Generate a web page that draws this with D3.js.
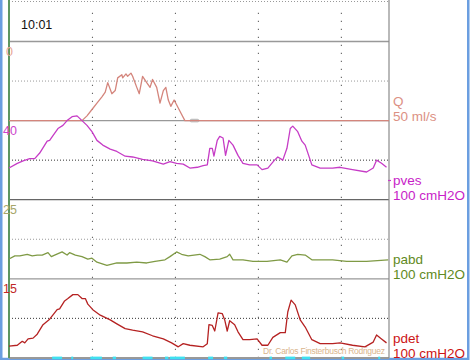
<!DOCTYPE html>
<html>
<head>
<meta charset="utf-8">
<script src="https://cdn.jsdelivr.net/npm/d3@7"></script>
<style>
	html, body { margin: 0; padding: 0; background: #fff; }
	svg { display: block; font-family: 'Liberation Sans', Arial, sans-serif; }
</style>
</head>
<body>
<svg id="uro-graph" width="470" height="360"></svg>
<script>
// channels, top to bottom
const channelNames = ['Q', 'pves', 'pabd', 'pdet'];
const channelUnits = ['50 ml/s', '100 cmH2O', '100 cmH2O', '100 cmH2O'];
const channelStart = ['0', '40', '25', '15'];
const channelRange = [50, 100, 100, 100];
const timeTicks = [10, 20, 30, 40]; // seconds
const clockLabel = '10:01';
const signature = 'Dr. Carlos Finsterbusch Rodriguez';

// [time s, value]
const qFlow = [[0, 0], [8.8, 0], [9.4, 3], [10.0, 7], [10.6, 11], [11.2, 15], [11.6, 18], [11.9, 24], [12.4, 17], [12.8, 19],
	[13.1, 27], [13.6, 29], [13.7, 27], [14.1, 29.5], [14.3, 28], [14.7, 30], [14.9, 28], [15.4, 21], [15.7, 17], [16.1, 28],
	[16.6, 24], [17.0, 21], [17.3, 26], [17.8, 21], [18.2, 11], [18.6, 19], [18.9, 21], [19.2, 13], [19.5, 9], [19.9, 13],
	[20.2, 10], [20.7, 5], [21.2, 0], [45.8, 0]];

const pves = [[0, 40], [1.0, 46], [1.7, 49], [2.5, 52], [3.1, 52], [3.7, 59], [4.6, 74], [4.9, 75], [5.3, 81], [5.9, 90],
	[6.5, 94], [7.0, 100], [7.6, 105], [8.2, 106], [8.8, 100], [9.4, 94], [10.0, 86], [10.6, 75], [11.3, 69], [12.2, 64],
	[13.0, 61], [14.0, 55], [14.9, 54], [16.1, 51], [17.3, 49], [18.6, 45], [19.4, 48], [20.2, 46], [21.0, 45], [21.8, 40],
	[22.7, 41], [23.4, 43], [23.9, 44], [24.2, 65], [24.5, 65], [24.7, 55], [25.1, 75], [25.4, 80], [25.8, 78], [26.1, 56],
	[26.5, 75], [27.0, 69], [27.6, 56], [28.2, 46], [29.0, 44], [29.9, 44], [30.5, 38], [31.2, 40], [32.0, 50], [32.4, 54],
	[33.0, 50], [33.5, 65], [33.9, 90], [34.2, 93], [34.8, 86], [35.3, 74], [35.7, 69], [36.5, 44], [37.5, 40], [39.0, 40],
	[39.9, 41], [41.4, 38], [43.1, 35], [43.9, 40], [44.3, 50], [44.9, 46], [45.5, 41]];

const pabd = [[0, 25], [0.7, 29], [1.3, 29], [2.2, 31], [2.8, 29], [3.4, 30], [4.0, 30], [4.7, 33], [5.1, 28], [5.5, 30],
	[6.4, 34], [7.0, 30], [7.3, 33], [8.0, 30], [8.8, 28], [9.5, 25], [10.0, 26], [10.6, 21], [11.8, 17], [13.0, 20],
	[14.2, 20], [15.4, 21], [16.6, 20], [17.6, 22], [18.8, 24], [19.4, 28], [20.2, 34], [20.8, 31], [21.6, 29], [23.0, 31],
	[23.6, 28], [24.2, 24], [25.4, 25], [26.3, 28], [26.6, 31], [27.0, 24], [28.2, 24], [29.4, 22], [31.1, 22], [32.7, 24],
	[33.5, 21], [34.1, 29], [34.8, 31], [35.7, 30], [36.5, 24], [39.0, 24], [40.7, 22], [43.1, 22], [45.7, 24]];

const pdet = [[0, 15], [1.0, 16], [1.6, 21], [1.9, 19], [2.3, 24], [2.9, 25], [3.4, 30], [4.1, 42], [4.9, 49], [5.8, 61],
	[6.1, 62], [6.7, 72], [7.1, 75], [7.7, 80], [8.3, 80], [8.8, 75], [9.2, 75], [9.5, 68], [10.1, 61], [11.0, 54],
	[12.2, 48], [13.0, 43], [14.0, 37], [14.9, 35], [16.1, 33], [17.3, 28], [18.6, 24], [19.6, 19], [20.4, 14], [21.0, 18],
	[21.8, 16], [23.4, 14], [23.9, 18], [24.1, 42], [24.5, 41], [24.8, 34], [25.2, 57], [25.7, 56], [26.0, 48], [26.3, 34],
	[26.6, 47], [27.2, 42], [27.6, 33], [28.2, 23], [29.0, 23], [29.9, 24], [30.5, 16], [31.2, 16], [31.8, 26], [32.7, 32],
	[33.3, 32], [33.6, 58], [34.0, 73], [34.5, 67], [35.1, 48], [35.7, 39], [36.5, 23], [37.5, 18], [39.0, 18], [39.9, 19],
	[41.4, 16], [42.9, 14], [43.9, 20], [44.3, 29], [44.9, 24], [45.5, 19]];

// event marks along the time axis [start s, end s]
const eventMarks = [[5.2, 6.4], [7.5, 7.7], [9.8, 11.2], [12.5, 12.9], [16.1, 17.3], [18.8, 19.2], [19.4, 21.2],
	[24.0, 24.6], [25.9, 26.3], [31.4, 31.7], [33.3, 34.5], [35.3, 36.3], [40.1, 40.4], [44.5, 44.7]];

//=====================================================================

const svg = d3.select('#uro-graph');

const //
	plotLeft = 9,
	plotRight = 389,
	headerTop = 1.5,
	panelsTop = 41.5,
	panelHeight = 79.1,
	plotBottom = panelsTop + panelHeight * 4,
	traceColors = ['#d4857c', '#c63cc6', '#7f9a45', '#b52222'],
	labelColors = ['#dc9184', '#c81ec8', '#5f8a22', '#cc1414'],
	startColors = ['#e8a595', '#cc44cc', '#a6a66a', '#c02828'];

const x = d3.scaleLinear().domain([0, 45.8]).range([plotLeft, plotRight]);
const panelY = channelRange.map((range, i) => {
	const top = panelsTop + i * panelHeight;
	return d3.scaleLinear().domain([0, range]).range([top + panelHeight, top]);
});

// frame
svg.append('rect')
	.attr('x', 1.25).attr('y', -3).attr('width', 467).attr('height', 362)
	.attr('fill', '#fff').attr('stroke', '#6b9ee0').attr('stroke-width', 2.5);

// horizontal dotted lines: header top + panel middles
const dottedRows = [headerTop].concat(panelY.map((y, i) => y(channelRange[i] / 2)));
svg.selectAll('.midline')
	.data(dottedRows)
	.enter()
	.append('line')
	.attr('x1', plotLeft).attr('x2', plotRight)
	.attr('y1', d => d).attr('y2', d => d)
	.attr('stroke', (d, i) => (i === 2 || i === 4 ? '#333' : '#999'))
	.attr('stroke-width', 1)
	.attr('stroke-dasharray', '1,2');

// vertical time grid
const timeAxis = svg.append('g')
	.attr('transform', `translate(0,${plotBottom})`)
	.call(d3.axisBottom(x).tickValues(timeTicks).tickSize(-(plotBottom - headerTop - 6)).tickFormat(''));
timeAxis.select('.domain').remove();
timeAxis.selectAll('.tick line')
	.attr('stroke', '#666')
	.attr('stroke-width', 1.1)
	.attr('stroke-dasharray', '1.2,6.8');

// panel separators
svg.selectAll('.separator')
	.data([0, 1, 2, 3, 4])
	.enter()
	.append('line')
	.attr('x1', plotLeft).attr('x2', plotRight)
	.attr('y1', i => panelsTop + i * panelHeight).attr('y2', i => panelsTop + i * panelHeight)
	.attr('stroke', i => (i === 2 ? '#666' : '#999'))
	.attr('stroke-width', i => (i === 4 ? 2 : 1.3));

// right edge and left axis
svg.append('line')
	.attr('x1', plotRight).attr('x2', plotRight).attr('y1', 0).attr('y2', plotBottom)
	.attr('stroke', '#8a8a8a').attr('stroke-width', 1.2);
svg.append('line')
	.attr('x1', plotLeft).attr('x2', plotLeft).attr('y1', 0).attr('y2', plotBottom)
	.attr('stroke', '#5e9660').attr('stroke-width', 2);

// small marker on the Q baseline
svg.append('rect')
	.attr('x', 190).attr('y', panelY[0](0) - 1.5).attr('width', 9).attr('height', 3).attr('rx', 1.5)
	.attr('fill', '#c8c8c8').attr('stroke', '#aaa').attr('stroke-width', 0.5);

// traces
[qFlow, pves, pabd, pdet].forEach((series, i) => {
	const line = d3.line()
		.x(d => x(d[0]))
		.y(d => panelY[i](d[1]));
	svg.append('path')
		.datum(series)
		.attr('d', line)
		.attr('fill', 'none')
		.attr('stroke', traceColors[i])
		.attr('stroke-width', 1.3)
		.attr('stroke-linejoin', 'round');
});

// pves marker on right edge
svg.append('line')
	.attr('x1', plotRight - 1).attr('x2', plotRight + 2)
	.attr('y1', 180.5).attr('y2', 180.5)
	.attr('stroke', traceColors[1]).attr('stroke-width', 1.2);

// event marks on the bottom line
svg.selectAll('.event')
	.data(eventMarks)
	.enter()
	.append('rect')
	.attr('x', d => x(d[0]))
	.attr('y', plotBottom - 1.3)
	.attr('width', d => Math.max(2, x(d[1]) - x(d[0])))
	.attr('height', 2.6)
	.attr('fill', '#3fe0f0');

// starting values at the top left of each panel
svg.selectAll('.start')
	.data(channelStart)
	.enter()
	.append('text')
	.attr('x', (d, i) => (i === 0 ? 6 : 3))
	.attr('y', (d, i) => panelsTop + i * panelHeight + 14)
	.attr('font-size', 12.5)
	.attr('fill', (d, i) => startColors[i])
	.text(d => d);

// channel names and scales on the right
channelNames.forEach((name, i) => {
	const bottom = panelsTop + (i + 1) * panelHeight;
	const g = svg.append('g')
		.attr('fill', labelColors[i])
		.attr('font-size', 13.5);
	g.append('text').attr('x', 393).attr('y', bottom - 15).text(name);
	g.append('text').attr('x', 393).attr('y', bottom).text(channelUnits[i]);
});

// clock
svg.append('text')
	.attr('x', 21).attr('y', 29)
	.attr('font-size', 12.5)
	.attr('fill', '#111')
	.text(clockLabel);

// signature
svg.append('text')
	.attr('x', 263).attr('y', 354)
	.attr('font-size', 8.5)
	.attr('textLength', 122)
	.attr('fill', '#d9b48c')
	.text(signature);
</script>
</body>
</html>
